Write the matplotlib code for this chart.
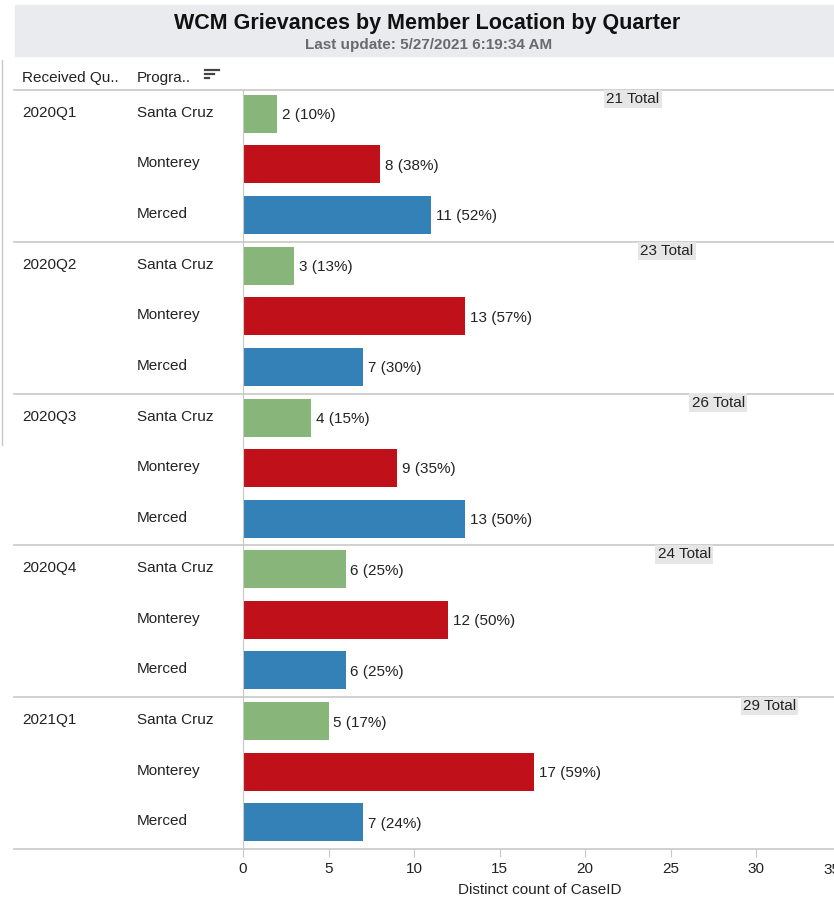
import matplotlib.pyplot as plt
import numpy as np

plt.rcParams['font.family'] = ['Liberation Sans', 'DejaVu Sans']

quarters = ['2020Q1', '2020Q2', '2020Q3', '2020Q4', '2021Q1']
programs = ['Santa Cruz', 'Monterey', 'Merced']
santa_cruz = [2, 3, 4, 6, 5]
monterey = [8, 13, 9, 12, 17]
merced = [11, 7, 13, 6, 7]
x_ticks = [0, 5, 10, 15, 20, 25, 30, 35]

colores = {'Santa Cruz': '#87b57a', 'Monterey': '#c0111b', 'Merced': '#3481b8'}
valores = {'Santa Cruz': santa_cruz, 'Monterey': monterey, 'Merced': merced}
FS = 11

W, H = 834, 897
fig = plt.figure(figsize=(W / 100, H / 100), dpi=100)
fig.patch.set_facecolor('white')

# capa de fondo en coordenadas de pixel
bg = fig.add_axes([0, 0, 1, 1])
bg.set_xlim(0, W)
bg.set_ylim(H, 0)
bg.axis('off')

bg.add_patch(plt.Rectangle((15, 5), W - 15, 51, color='#e9ebef', zorder=0))
bg.text(427, 23, 'WCM Grievances by Member Location by Quarter', ha='center',
        va='center', fontsize=15.5, fontweight='bold', color='#111111')
bg.text(429, 45, 'Last update: 5/27/2021 6:19:34 AM', ha='center',
        va='center', fontsize=11, fontweight='bold', color='#6a6a6a')
bg.plot([2, 2], [60, 445], color='#c8c8c8', linewidth=1)

bg.text(22, 78, 'Received Qu..', ha='left', va='center', fontsize=FS, color='#222222')
bg.text(137, 78, 'Progra..', ha='left', va='center', fontsize=FS, color='#222222')
for k, largo in enumerate([14, 9, 4]):
    bg.plot([205, 205 + largo], [70 + k * 4, 70 + k * 4], color='#444444', linewidth=1.6)

top, bottom = 90, 849
alto_grupo = (bottom - top) / len(quarters)
for g in range(len(quarters) + 1):
    yy = top + g * alto_grupo
    bg.plot([14, W], [yy, yy], color='#c8c8c8', linewidth=1.2)

x0 = 243
px_unidad = 17.1
ax = fig.add_axes([x0 / W, (H - bottom) / H, 35 * px_unidad / W, (bottom - top) / H])
ax.patch.set_alpha(0)
ax.set_xlim(0, 35)
ax.set_ylim(bottom, top)

for g, q in enumerate(quarters):
    g_top = top + g * alto_grupo
    total = santa_cruz[g] + monterey[g] + merced[g]
    bg.text(22, g_top + 23, q, ha='left', va='center', fontsize=FS, color='#222222')
    for i, p in enumerate(programs):
        yc = g_top + 24 + i * 50.5
        v = valores[p][g]
        ax.barh(yc, v, height=38, color=colores[p])
        ax.annotate(f'{v} ({round(v / total * 100)}%)', (v, yc), xytext=(3.5, -1),
                    textcoords='offset points', ha='left', va='center',
                    fontsize=FS, color='#222222')
        bg.text(137, yc - 1, p, ha='left', va='center', fontsize=FS, color='#222222')
    ax.annotate(f'{total} Total', (total, g_top + 9), xytext=(3, 0),
                textcoords='offset points', ha='left', va='center',
                fontsize=FS, color='#222222',
                bbox=dict(boxstyle='square,pad=0.15', facecolor='#e6e6e6', edgecolor='none'))

ax.set_xticks(x_ticks)
ax.set_xticklabels([str(t) for t in x_ticks[:-1]] + [''])
# la etiqueta 35 queda corrida a la izquierda y cortada por el borde
ax.annotate(str(x_ticks[-1]), (x_ticks[-1], 0), xycoords=('data', 'axes fraction'),
            xytext=(-13, -10), textcoords='offset points', ha='left', va='top',
            fontsize=FS, color='#222222', annotation_clip=False)
ax.set_yticks([])
for lado in ['top', 'right', 'bottom']:
    ax.spines[lado].set_visible(False)
ax.spines['left'].set_color('#c8c8c8')
ax.tick_params(axis='x', length=6, color='#c8c8c8', labelsize=FS,
               labelcolor='#222222', pad=3)
ax.set_xlabel('Distinct count of CaseID', fontsize=FS, color='#222222', labelpad=5)
ax.xaxis.set_label_coords(297 / (35 * px_unidad), -0.045)

fig.savefig('out.png', dpi=100)
